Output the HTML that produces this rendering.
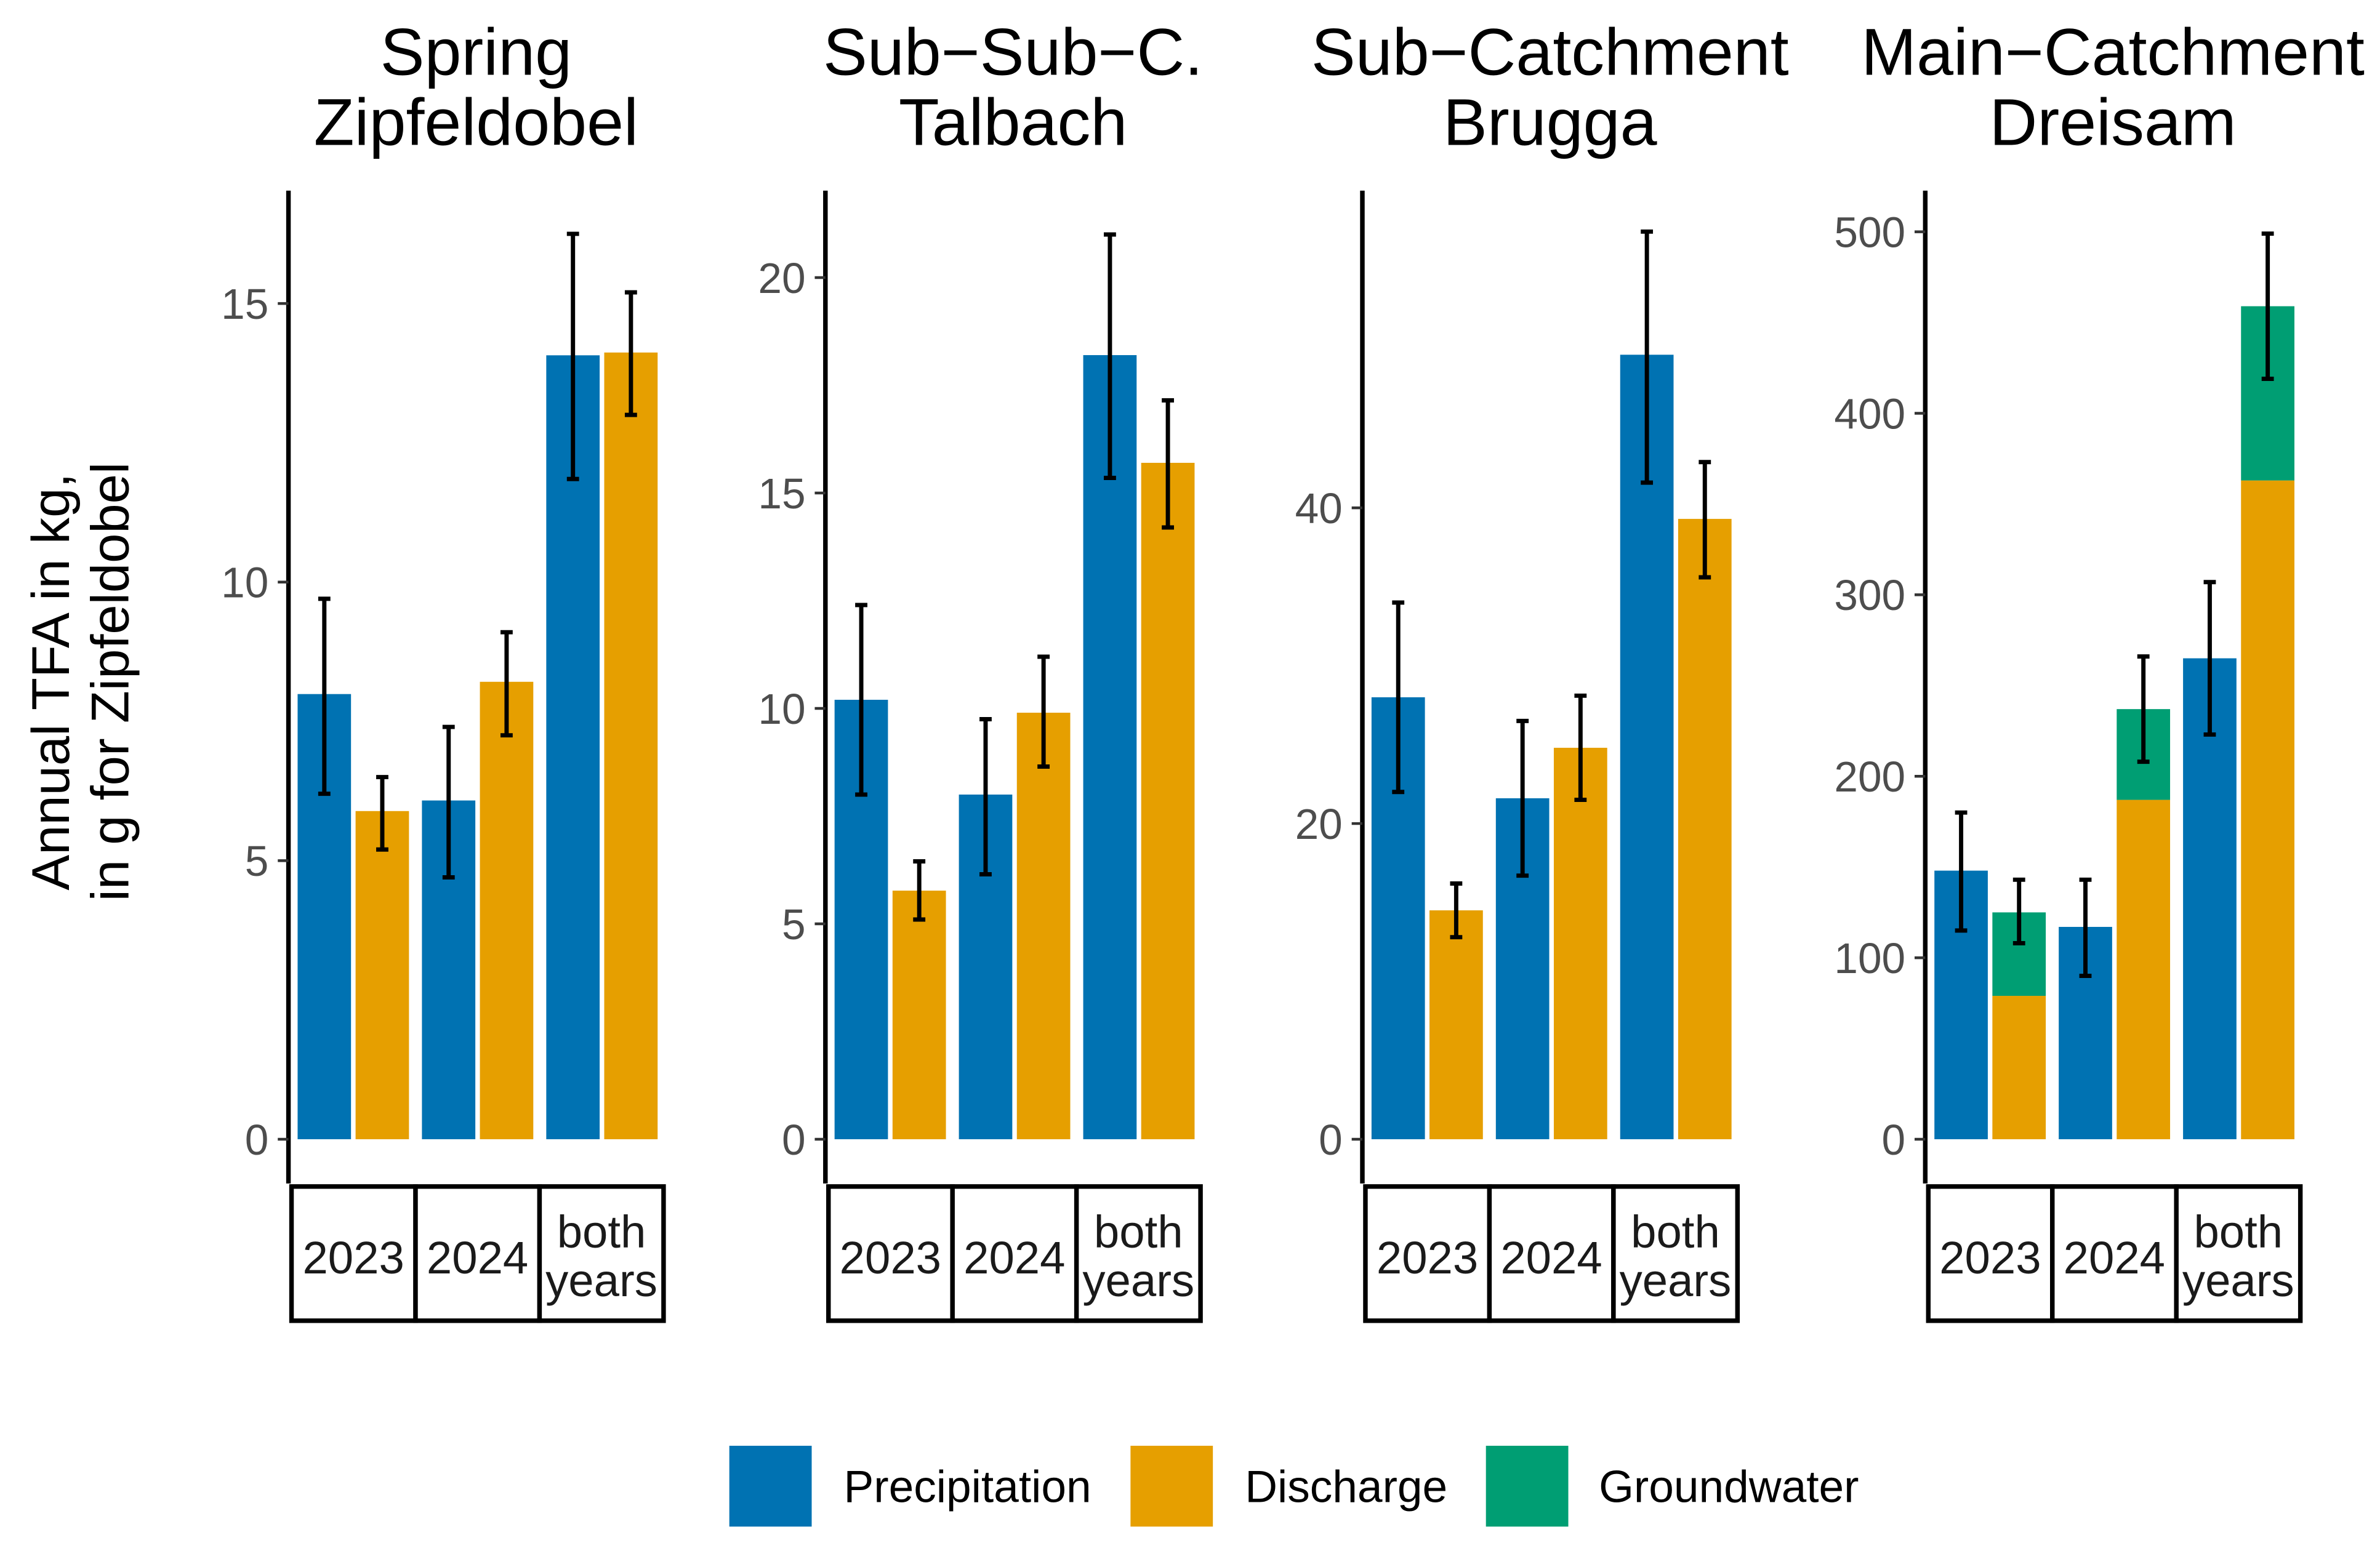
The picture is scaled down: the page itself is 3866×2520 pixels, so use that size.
<!DOCTYPE html>
<html><head><meta charset="utf-8"><style>html,body{margin:0;padding:0;background:#fff}svg{display:block}</style></head>
<body>
<svg id="chart" width="3866" height="2520" viewBox="0 0 1560 1017" xmlns="http://www.w3.org/2000/svg" font-family="Liberation Sans, sans-serif">
<rect width="1560" height="1017" fill="#fff"/>
<g transform="translate(48,447) rotate(-90)" font-size="35" text-anchor="middle" fill="#000">
<text y="-3">Annual TFA in kg,</text><text y="36">in g for Zipfeldobel</text>
</g>
<g id="panels"></g>
<g font-size="29.5">
<rect x="478" y="948" width="54" height="53" fill="#0072B2"/>
<text x="553" y="985">Precipitation</text>
<rect x="741" y="948" width="54" height="53" fill="#E69F00"/>
<text x="816" y="985">Discharge</text>
<rect x="974" y="948" width="54" height="53" fill="#009E73"/>
<text x="1048" y="985">Groundwater</text>
</g>
</svg>
<script>
const panelTitles = [["Spring","Zipfeldobel"],["Sub\u2212Sub\u2212C.","Talbach"],["Sub\u2212Catchment","Brugga"],["Main\u2212Catchment","Dreisam"]];
const groups = ["2023","2024","both years"];
const yTicks = [[0,5,10,15],[0,5,10,15,20],[0,20,40],[0,100,200,300,400,500]];
const yMaxPx = [15,20,40,500];
const precip = [[7.99,6.08,14.07],[10.2,8.0,18.2],[28.0,21.6,49.7],[148,117,265]];
const precipLo = [[6.2,4.7,11.85],[8.0,6.15,15.35],[22,16.7,41.6],[115,90,223]];
const precipHi = [[9.7,7.4,16.25],[12.4,9.75,21.0],[34,26.5,57.5],[180,143,307]];
const discharge = [[5.89,8.21,14.12],[5.77,9.9,15.7],[14.5,24.8,39.3],[79,187,363]];
const groundwater = [[0,0,0],[0,0,0],[0,0,0],[46,50,96]];
const dischLo = [[5.2,7.25,13.0],[5.1,8.65,14.2],[12.8,21.5,35.6],[108,208,419]];
const dischHi = [[6.5,9.1,15.2],[6.45,11.2,17.15],[16.2,28.1,42.9],[143,266,499]];

const NS="http://www.w3.org/2000/svg";
const axisX=[189,541,893,1262];
const y0=747;
const yTopPx=[199,182,333,152];
function mk(tag,attrs,parent){const e=document.createElementNS(NS,tag);for(const k in attrs)e.setAttribute(k,attrs[k]);parent.appendChild(e);return e;}
const root=document.getElementById('panels');
for(let p=0;p<4;p++){
  const g=mk('g',{},root);
  
  
  const ax=axisX[p];
  const yScale=v=>y0-(v/yMaxPx[p])*(y0-yTopPx[p]);
  const cx=ax+123;
  const t=mk('text',{x:cx,'text-anchor':'middle','font-size':'43.5'},g);
  
  
  const s1=mk('tspan',{x:cx,y:49},t);s1.textContent=panelTitles[p][0];
  const s2=mk('tspan',{x:cx,y:95},t);s2.textContent=panelTitles[p][1];
  const al=mk('line',{x1:ax,y1:125,x2:ax,y2:776,stroke:'#000','stroke-width':3},g);
  
  
  yTicks[p].forEach(v=>{
    const y=yScale(v);
    const tk=mk('line',{x1:ax-7,y1:y,x2:ax,y2:y,stroke:'#333','stroke-width':1.8},g);
    
    
    const tl=mk('text',{x:ax-13,y:y+10,'text-anchor':'end','font-size':'28',fill:'#4d4d4d'},g);
    
    
    tl.textContent=v;
  });
  for(let i=0;i<3;i++){
    const gx=ax+6+i*81.5;
    const bw=35;
    const bx1=gx, bx2=gx+38;
    const pv=precip[p][i];
    const r1=mk('rect',{x:bx1,y:yScale(pv),width:bw,height:y0-yScale(pv),fill:'#0072B2'},g);
    
    
    const dv=discharge[p][i];
    const r2=mk('rect',{x:bx2,y:yScale(dv),width:bw,height:y0-yScale(dv),fill:'#E69F00'},g);
    
    
    const gw=groundwater[p][i];
    if(gw>0){
      const r3=mk('rect',{x:bx2,y:yScale(dv+gw),width:bw,height:yScale(dv)-yScale(dv+gw),fill:'#009E73'},g);
      
      
    }
    [[bx1+bw/2,precipLo[p][i],precipHi[p][i]],[bx2+bw/2,dischLo[p][i],dischHi[p][i]]].forEach(([ex,lo,hi])=>{
      const eg=mk('g',{stroke:'#000','stroke-width':2.8},g);
      
      
      mk('line',{x1:ex,y1:yScale(lo),x2:ex,y2:yScale(hi)},eg);
      mk('line',{x1:ex-4,y1:yScale(lo),x2:ex+4,y2:yScale(lo)},eg);
      mk('line',{x1:ex-4,y1:yScale(hi),x2:ex+4,y2:yScale(hi)},eg);
    });
    const sx=ax+2+i*81.3;
    const sr=mk('rect',{x:sx,y:778,width:81.3,height:88,fill:'#fff',stroke:'#000','stroke-width':3},g);
    
    
    const st=mk('text',{'text-anchor':'middle','font-size':'30',fill:'#1a1a1a'},g);
    
    
    const words=groups[i].split(' ');
    if(words.length===1){const ts=mk('tspan',{x:sx+40.6,y:835},st);ts.textContent=words[0];}
    else{const a=mk('tspan',{x:sx+40.6,y:818},st);a.textContent=words[0];const b=mk('tspan',{x:sx+40.6,y:850},st);b.textContent=words[1];}
  }
}
</script>
</body></html>
